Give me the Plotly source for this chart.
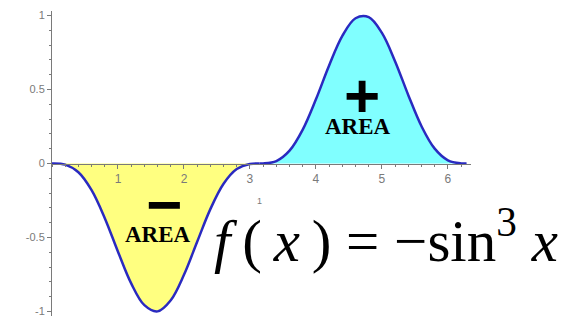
import plotly.graph_objects as go

# valores: f(x) = -sin^3 x
x_neg = [0, 0.2, 0.4, 0.6, 0.8, 1.0, 1.2, 1.4, 1.6, 1.8, 2.0, 2.2, 2.4, 2.6, 2.8, 3.0, 3.1416]
y_neg = [0, -0.0078, -0.0591, -0.18, -0.3692, -0.5958, -0.8097, -0.957, -0.9987, -0.9236,
         -0.7518, -0.5285, -0.3082, -0.137, -0.0376, -0.0028, 0]
x_pos = [3.1416, 3.2, 3.4, 3.6, 3.8, 4.0, 4.2, 4.4, 4.6, 4.8, 5.0, 5.2, 5.4, 5.6, 5.8, 6.0, 6.2, 6.2832]
y_pos = [0, 0.0002, 0.0167, 0.0867, 0.2291, 0.4335, 0.6621, 0.8617, 0.9812, 0.9885, 0.8818,
         0.6895, 0.4615, 0.2516, 0.1003, 0.0218, 0.0006, 0]

x_ticks = [1, 2, 3, 4, 5, 6]
y_ticks = [-1, -0.5, 0, 0.5, 1]
y_tick_text = ["-1", "-0.5", "0", "0.5", "1"]

gris = "#7a7a7a"
linea = "#2a2ac0"

fig = go.Figure()

# area negativa (amarilla)
fig.add_trace(go.Scatter(x=x_neg, y=y_neg, mode="lines", fill="tozeroy",
                         fillcolor="#ffff80", line=dict(color=linea, width=2.5, shape="spline")))
# area positiva (cian)
fig.add_trace(go.Scatter(x=x_pos, y=y_pos, mode="lines", fill="tozeroy",
                         fillcolor="#80ffff", line=dict(color=linea, width=2.5, shape="spline")))

# textos
anot = [
    dict(x=4.7, y=0.46, text="<b>+</b>", font=dict(family="Liberation Sans", size=62, color="black")),
    dict(x=4.64, y=0.25, text="<b>AREA</b>", font=dict(family="Liberation Serif", size=23, color="black")),
    dict(x=1.7, y=-0.28, text="<b>−</b>", font=dict(family="Liberation Sans", size=62, color="black")),
    dict(x=1.6, y=-0.48, text="<b>AREA</b>", font=dict(family="Liberation Serif", size=23, color="black")),
    dict(x=3.15, y=-0.25, text="1", font=dict(family="Liberation Sans", size=9, color=gris)),
]
for a in anot:
    fig.add_annotation(xref="x", yref="y", showarrow=False, **a)

fig.add_annotation(xref="x", yref="y", x=2.42, y=-0.49, showarrow=False, xanchor="left",
                   text="<i>f</i>\u2009(\u2009<i>x</i>\u2009) = −sin<sup>3</sup> <i>x</i>",
                   font=dict(family="Liberation Serif", size=59, color="black"))

fig.update_xaxes(range=[0, 6.35], anchor="free", position=0.5, automargin=False,
                 showgrid=False, zeroline=False, showline=True, linecolor=gris, linewidth=1,
                 tickvals=x_ticks, ticks="outside", ticklen=4, tickcolor=gris,
                 tickfont=dict(family="Liberation Sans", size=12, color=gris),
                 minor=dict(dtick=0.2, ticks="outside", ticklen=2, tickcolor=gris))
fig.update_yaxes(range=[-1.03, 1.03], showgrid=False, zeroline=False, automargin=False,
                 showline=True, linecolor=gris, linewidth=1,
                 tickvals=y_ticks, ticktext=y_tick_text, ticks="outside", ticklen=4, tickcolor=gris,
                 tickfont=dict(family="Liberation Sans", size=11, color=gris),
                 minor=dict(dtick=0.1, ticks="outside", ticklen=2, tickcolor=gris))

# la pagina tiene 8 px de margen en el body, por eso el lienzo es mas chico
fig.update_layout(width=570, height=314, margin=dict(l=44, r=107, t=3, b=6),
                  plot_bgcolor="white", paper_bgcolor="white", showlegend=False)

fig.write_html("out.html")
